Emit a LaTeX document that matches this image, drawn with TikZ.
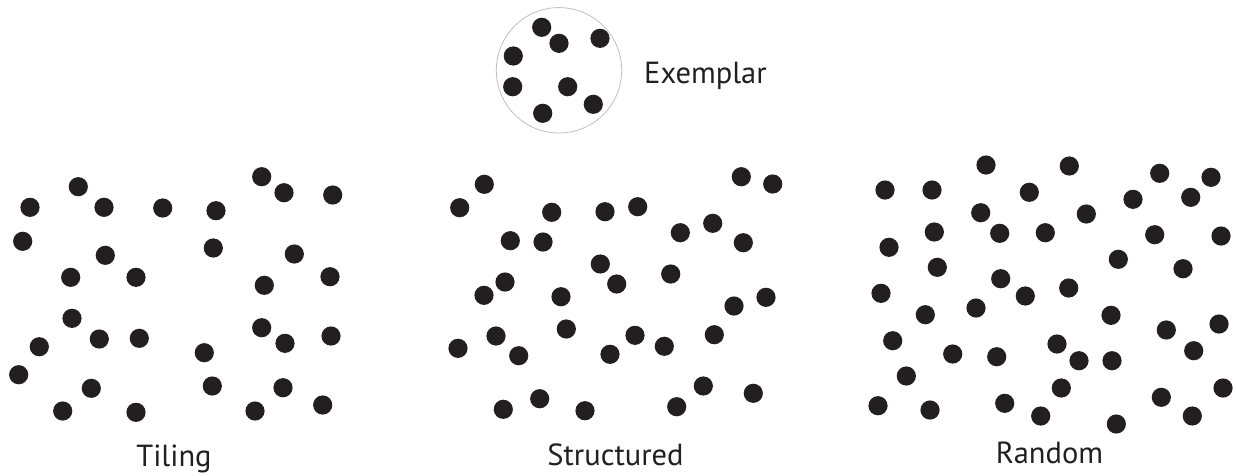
\documentclass[tikz,border=0pt]{standalone}
\usepackage{fontspec}
\setmainfont{PT Sans}
\usepackage{tikz}
\usetikzlibrary{positioning}

\definecolor{dotInk}{HTML}{231F20}

\begin{document}
\begin{tikzpicture}[
      x=1pt, y=-1pt,
      line cap=round, line join=round,
      font=\fontsize{30.5}{34}\selectfont
    ]

    % ------------------ Layout ------------------
    \def\dotR{9.6}
    \useasboundingbox (0,0) rectangle (1236,475);

    % ------------------ Exemplar ------------------
    \draw[black!25, line width=0.8pt] (559,70.3) circle (62.7);
    \foreach \x/\y in {541.7/27.3, 559/43.3, 600/38.3, 513.3/56,
      512.7/86.7, 567.7/86.7, 593.3/104.3, 542.7/113.3}
    \fill[dotInk] (\x,\y) circle (\dotR);
    \node[anchor=base west, inner sep=0pt, text=dotInk] (exemplar) at (644,83.5) {Exemplar};

    % ------------------ Tiling ------------------
    \foreach \x/\y in {78.3/186.7, 30/207.3, 104/207.3, 162.7/208,
      216/210.7, 261.7/176.7, 284/192.7, 332.7/195, 22.7/241.3,
      105.3/255.3, 213.3/248, 294.3/254, 70.7/277.3, 136/277.3,
      264.3/285.3, 330/276.7, 72/318.3, 39.3/346.7, 99.3/339,
      139.3/338.3, 261.7/327.7, 285/343.3, 331/336, 204.3/352.7,
      18.7/374.7, 91.3/388.3, 212.3/386, 283/387.7, 322.7/405,
      62.7/411, 136/412.3, 255/411}
    \fill[dotInk] (\x,\y) circle (\dotR);
    \node[anchor=base, inner sep=0pt, text=dotInk] (tiling) at (174,466) {Tiling};

    % ------------------ Structured ------------------
    \foreach \x/\y in {484.3/184.3, 459.7/207.7, 551.7/212.3, 605/211.7,
      637.7/206.7, 741.3/176.7, 772.7/184, 510.3/240.7, 543/242,
      680.3/232.7, 712.7/223.3, 743.3/242.7, 600.3/264, 616.7/284,
      670.7/274, 505/282, 484/295.3, 561/296.7, 734/306, 766/297.3,
      566.3/329, 635/335.3, 664.3/346.3, 714.3/334.7, 496/336,
      458/348.3, 518.7/355.7, 610/354.3, 703.3/386, 753.3/393.3,
      676.7/406.7, 539.7/398.7, 503.3/409.3, 585/410.7}
    \fill[dotInk] (\x,\y) circle (\dotR);
    \node[anchor=base, inner sep=0pt, text=dotInk] (structured) at (615.5,465) {Structured};

    % ------------------ Random ------------------
    \foreach \x/\y in {986/165, 1069.3/166, 885/190, 932/190,
      1029.3/192.3, 1159.7/173.3, 1211/177.3, 1133/199.3, 1190.7/197.3,
      980.7/212.7, 1086.3/214, 934.3/232, 999.7/233.3, 1045.3/232.7,
      1154.7/234.7, 1221/236, 889/247.3, 1118.3/259.3, 1183/268.7,
      937.3/267.3, 1000.7/278.7, 881/293.3, 1025.3/296, 1068.7/288,
      976/308, 925.3/314.7, 1111/315.3, 1166.3/330, 1219/324,
      1193.7/350.7, 892.7/340.7, 952.7/354, 996.7/356.7, 1057/344,
      1079/360.7, 1112/360.7, 906.3/376, 1061.3/388, 1223/388,
      1161.3/397.3, 878/405.7, 930/410, 1004.7/403.3, 1040.7/416,
      1116.3/424, 1192.3/416}
    \fill[dotInk] (\x,\y) circle (\dotR);
    \node[anchor=base, inner sep=0pt, text=dotInk] (random) at (1049.5,463) {Random};

  \end{tikzpicture}
\end{document}
